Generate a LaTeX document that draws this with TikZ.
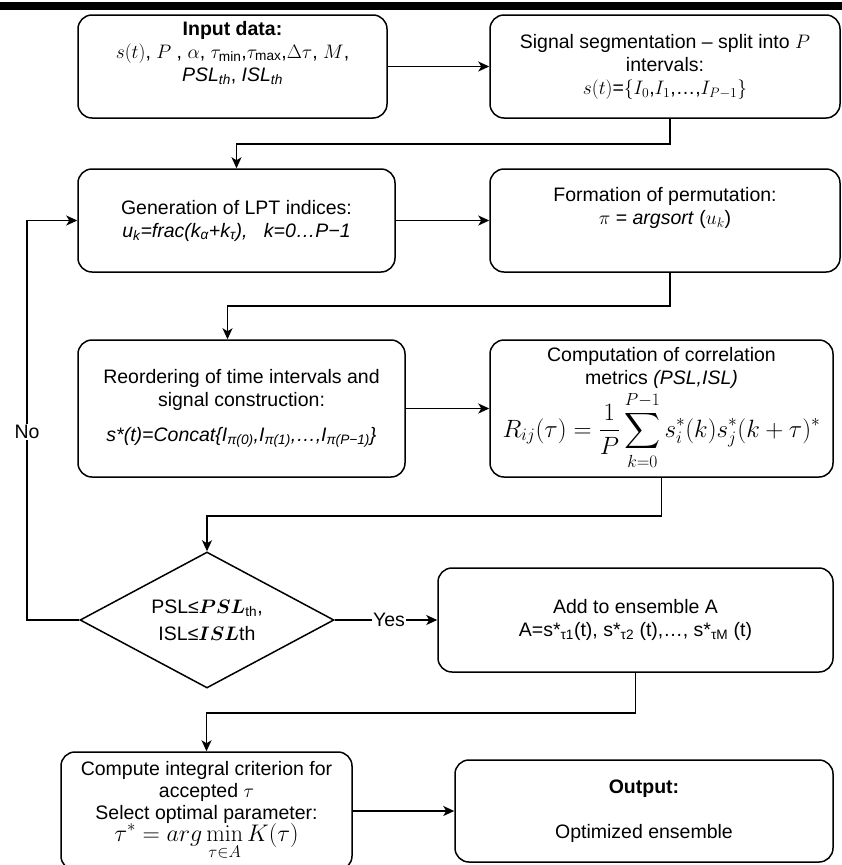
\RequirePackage{fix-cm}
\documentclass[tikz,border=0pt]{standalone}
\usepackage{amsmath,amssymb}
\usepackage[no-math]{fontspec}
\setmainfont{Liberation Sans}
\usetikzlibrary{shapes.geometric,arrows.meta,calc}
\newcommand{\boxfont}{\fontsize{19.5}{23}\selectfont}
\newcommand{\bigmath}{\fontsize{25}{26}\selectfont}
\begin{document}
\begin{tikzpicture}[x=1pt,y=-1pt,
  box/.style={draw, line width=1.5pt, rounded corners=14pt, align=center, inner sep=2pt, font=\boxfont},
  conn/.style={line width=1.5pt, -{Stealth[length=11pt,width=10pt,inset=3pt]}},
  lbl/.style={fill=white, inner sep=1pt, font=\boxfont}]
\useasboundingbox (0,0) rectangle (842,865);
\fill[white] (0,0) rectangle (842,865);
\fill[black] (0,2) rectangle (842,10);

% boxes
\node[box, minimum width=309pt, minimum height=103pt] (in) at (232.5,66.5)
  {\textbf{Input data:}\\ $s(t)$, $P$ , $\alpha$, $\tau_{\text{min}}$,$\tau_{\text{max}}$,$\Delta\tau$, $M$,\\ \textit{PSL}$_{\textit{th}}$, \textit{ISL}$_{\textit{th}}$\\[8pt]};
\node[box, minimum width=350pt, minimum height=103pt] (seg) at (665,66.5)
  {Signal segmentation -- split into $P$\\ intervals:\\ $s(t)$=$\{I_0$,$I_1$,\ldots,$I_{P-1}\}$};
\node[box, minimum width=317pt, minimum height=103pt] (gen) at (236.5,220.5)
  {Generation of LPT indices:\\ \textit{u\textsubscript{k}=frac(k\textsubscript{α}+k\textsubscript{τ}),\ \ \ k=0…P−1}};
\node[box, minimum width=350pt, minimum height=103pt] (form) at (665,220.5)
  {Formation of permutation:\\ $\pi$ = \textit{argsort} ($u_k$)\\[6pt]};
\node[box, minimum width=327pt, minimum height=137pt] (reo) at (241.5,408.5)
  {Reordering of time intervals and\\ signal construction:\\[12pt] \textit{s*(t)=Concat\{I\textsubscript{π(0)},I\textsubscript{π(1)},…,I\textsubscript{π(P−1)}\}}};
\node[box, minimum width=343pt, minimum height=137pt, inner sep=0pt] (comp) at (661.5,408.5)
  {Computation of correlation\\ metrics \textit{(PSL,ISL)}\\[2pt] {\bigmath $\displaystyle R_{ij}(\tau)=\frac{1}{P}\sum_{k=0}^{P-1} s_i^*(k)s_j^*(k+\tau)^*$}};
\node[draw, line width=1.5pt, shape=diamond, shape aspect=1.87, inner sep=0pt,
      minimum width=254pt, minimum height=136pt, align=center, font=\boxfont] (dia) at (207,620)
  {PSL≤$\boldsymbol{PSL}_{\text{th}}$,\\[4pt] ISL≤$\boldsymbol{ISL}$th};
\node[box, minimum width=395pt, minimum height=104pt] (add) at (635.5,620)
  {Add to ensemble A\\ A=s*\textsubscript{τ1}(t), s*\textsubscript{τ2} (t),…, s*\textsubscript{τM} (t)};
\node[box, minimum width=291pt, minimum height=118pt, inner sep=0pt, font=\fontsize{19.5}{22}\selectfont] (crit) at (206.5,811)
  {Compute integral criterion for\\ accepted $\tau$\\ Select optimal parameter:\\[-1pt] {\fontsize{24}{25}\selectfont $\displaystyle \tau^* = arg\min_{\tau\in A} K(\tau)$}};
\node[box, minimum width=378pt, minimum height=102pt] (out) at (644,811)
  {\textbf{Output:}\\[22pt] Optimized ensemble};

% connectors
\draw[conn] (in) -- (seg);
\draw[conn] ([xshift=5pt]seg.south) -- ++(0,25) -| (gen.north);
\draw[conn] (gen) -- (form);
\draw[conn] ([xshift=5pt]form.south) -- ++(0,33) -| ([xshift=-14pt]reo.north);
\draw[conn] (reo) -- (comp);
\draw[conn] (comp.south) -- ++(0,38) -| (dia.north);
\coordinate (nocorner) at (27,620);
\draw[conn] (dia.west) -- (nocorner) |- (gen.west) node[lbl, pos=0.235] {No};
\draw[conn] (dia.east) -- (add.west) node[lbl, pos=0.53] {Yes};
\draw[conn] (add.south) -- ++(0,40) -| (crit.north);
\draw[conn] (crit.east |- out.west) -- (out.west);
\end{tikzpicture}
\end{document}
